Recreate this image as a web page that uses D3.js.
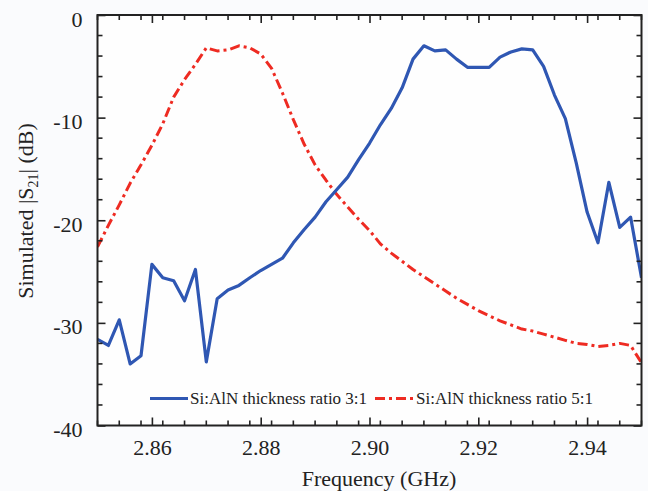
<!DOCTYPE html>
<html><head><meta charset="utf-8">
<script src="https://cdn.jsdelivr.net/npm/d3@7"></script>
<style>
html,body{margin:0;padding:0;background:#fafbfd;}
svg{display:block;}
svg text{font-family:"Liberation Serif",Tinos,"Times New Roman",Times,"DejaVu Serif",serif !important;fill:#222;}
</style></head>
<body>
<script>
const freqs = [2.850,2.852,2.854,2.856,2.858,2.860,2.862,2.864,2.866,2.868,
  2.870,2.872,2.874,2.876,2.878,2.880,2.882,2.884,2.886,2.888,
  2.890,2.892,2.894,2.896,2.898,2.900,2.902,2.904,2.906,2.908,
  2.910,2.912,2.914,2.916,2.918,2.920,2.922,2.924,2.926,2.928,
  2.930,2.932,2.934,2.936,2.938,2.940,2.942,2.944,2.946,2.948,2.950];
const ratio31 = [-31.6,-32.2,-29.7,-34.0,-33.2,-24.3,-25.6,-25.9,-27.85,-24.8,
  -33.8,-27.65,-26.8,-26.35,-25.6,-24.9,-24.3,-23.7,-22.2,-20.9,
  -19.7,-18.2,-17.0,-15.8,-14.1,-12.5,-10.7,-9.1,-7.1,-4.3,
  -3.0,-3.5,-3.4,-4.3,-5.1,-5.1,-5.1,-4.1,-3.6,-3.3,
  -3.4,-5.0,-7.8,-10.1,-14.4,-19.2,-22.2,-16.3,-20.7,-19.7,-25.6];
const ratio51 = [-22.6,-20.5,-18.5,-16.4,-14.6,-12.7,-10.6,-8.0,-6.3,-4.8,
  -3.2,-3.5,-3.4,-3.0,-3.2,-3.8,-5.2,-7.6,-10.2,-12.6,
  -14.6,-16.1,-17.5,-18.7,-19.9,-21.0,-22.3,-23.2,-24.0,-24.8,
  -25.5,-26.2,-26.9,-27.6,-28.2,-28.8,-29.3,-29.8,-30.2,-30.6,
  -30.8,-31.1,-31.4,-31.7,-32.0,-32.1,-32.3,-32.2,-32.0,-32.2,-33.9];
const xTicks = [2.86,2.88,2.90,2.92,2.94];
const yTicks = [0,-10,-20,-30,-40];
const seriesNames = ["Si:AlN thickness ratio 3:1","Si:AlN thickness ratio 5:1"];
const seriesColors = ["#2f57b3","#ee2b22"];

(function(){
const FONT = '"Liberation Serif", Tinos, "Times New Roman", Times, serif';
const W = 648, H = 491;
const m = {left:97.5, right:6.5, top:15, bottom:65.5};
const svg = d3.select("body").append("svg").attr("width",W).attr("height",H);
const x = d3.scaleLinear().domain([2.85,2.95]).range([m.left, W-m.right]);
const y = d3.scaleLinear().domain([-40,0]).range([H-m.bottom, m.top]);

svg.append("rect").attr("x",m.left).attr("y",m.top)
  .attr("width",W-m.left-m.right).attr("height",H-m.top-m.bottom)
  .attr("fill","#fefefe");

const xMinor = d3.range(2.85,2.9501,0.004).filter(v=>!xTicks.some(t=>Math.abs(t-v)<1e-6));
const yMinor = d3.range(-40,0.01,2).filter(v=>!yTicks.includes(v));

svg.append("clipPath").attr("id","c").append("rect")
  .attr("x",m.left).attr("y",m.top).attr("width",W-m.left-m.right).attr("height",H-m.top-m.bottom);

const line = d3.line().x((d,i)=>x(freqs[i])).y(d=>y(d));
const g = svg.append("g").attr("clip-path","url(#c)");
g.append("path").datum(ratio51).attr("d",line).attr("fill","none")
  .attr("stroke",seriesColors[1]).attr("stroke-width",3)
  .attr("stroke-dasharray","10,4,3,4").attr("stroke-linejoin","round");
g.append("path").datum(ratio31).attr("d",line).attr("fill","none")
  .attr("stroke",seriesColors[0]).attr("stroke-width",3.2).attr("stroke-linejoin","round");

function styleAxis(sel){
  sel.attr("font-family",FONT);
  sel.select(".domain").remove();
  sel.selectAll(".tick line").attr("stroke","#222").attr("stroke-width",1.6);
  sel.selectAll(".tick text").attr("font-family",FONT).style("font-size","22px").attr("fill","#222");
}
const fmtY = d => String(d);
const axB = svg.append("g").attr("transform",`translate(0,${H-m.bottom})`)
  .call(d3.axisBottom(x).tickValues(xTicks).tickSize(-8).tickPadding(14).tickFormat(d3.format(".2f")));
styleAxis(axB);
axB.append("g").selectAll("line").data(xMinor).join("line")
  .attr("x1",d=>x(d)).attr("x2",d=>x(d)).attr("y1",0).attr("y2",-5).attr("stroke","#222").attr("stroke-width",1.6);
const axT = svg.append("g").attr("transform",`translate(0,${m.top})`)
  .call(d3.axisTop(x).tickValues(xTicks).tickSize(-8).tickFormat(""));
styleAxis(axT);
axT.append("g").selectAll("line").data(xMinor).join("line")
  .attr("x1",d=>x(d)).attr("x2",d=>x(d)).attr("y1",0).attr("y2",5).attr("stroke","#222").attr("stroke-width",1.6);
const axL = svg.append("g").attr("transform",`translate(${m.left},0)`)
  .call(d3.axisLeft(y).tickValues(yTicks).tickSize(-8).tickPadding(15).tickFormat(fmtY));
styleAxis(axL);
axL.selectAll(".tick text").attr("dy","0.5em");
axL.append("g").selectAll("line").data(yMinor).join("line")
  .attr("y1",d=>y(d)).attr("y2",d=>y(d)).attr("x1",0).attr("x2",5).attr("stroke","#222").attr("stroke-width",1.6);
const axR = svg.append("g").attr("transform",`translate(${W-m.right},0)`)
  .call(d3.axisRight(y).tickValues(yTicks).tickSize(-8).tickFormat(""));
styleAxis(axR);
axR.append("g").selectAll("line").data(yMinor).join("line")
  .attr("y1",d=>y(d)).attr("y2",d=>y(d)).attr("x1",0).attr("x2",-5).attr("stroke","#222").attr("stroke-width",1.6);

svg.append("rect").attr("x",m.left).attr("y",m.top)
  .attr("width",W-m.left-m.right).attr("height",H-m.top-m.bottom)
  .attr("fill","none").attr("stroke","#222").attr("stroke-width",2);

svg.append("text").attr("x",379).attr("y",486).attr("font-family",FONT)
  .attr("text-anchor","middle").style("font-size","22px").text("Frequency (GHz)");
const yt = svg.append("text").attr("transform",`translate(33,211) rotate(-90)`)
  .attr("font-family",FONT).attr("text-anchor","middle").style("font-size","22px");
yt.append("tspan").text("Simulated |S");
yt.append("tspan").attr("dy",5).style("font-size","14px").text("21");
yt.append("tspan").attr("dy",-5).text("| (dB)");

const legY = 398.5;
const legItems = [{x0:150,x1:188,tx:190},{x0:375,x1:414,tx:416}];
legItems.forEach((it,i)=>{
  svg.append("line").attr("x1",it.x0).attr("x2",it.x1).attr("y1",legY).attr("y2",legY)
    .attr("stroke",seriesColors[i]).attr("stroke-width",3.2)
    .attr("stroke-dasharray", i===1 ? "10,4,3,4" : null);
  svg.append("text").attr("x",it.tx).attr("y",legY+5.5).attr("font-family",FONT)
    .style("font-size","17px").text(seriesNames[i]);
});
})();
</script>
</body></html>
